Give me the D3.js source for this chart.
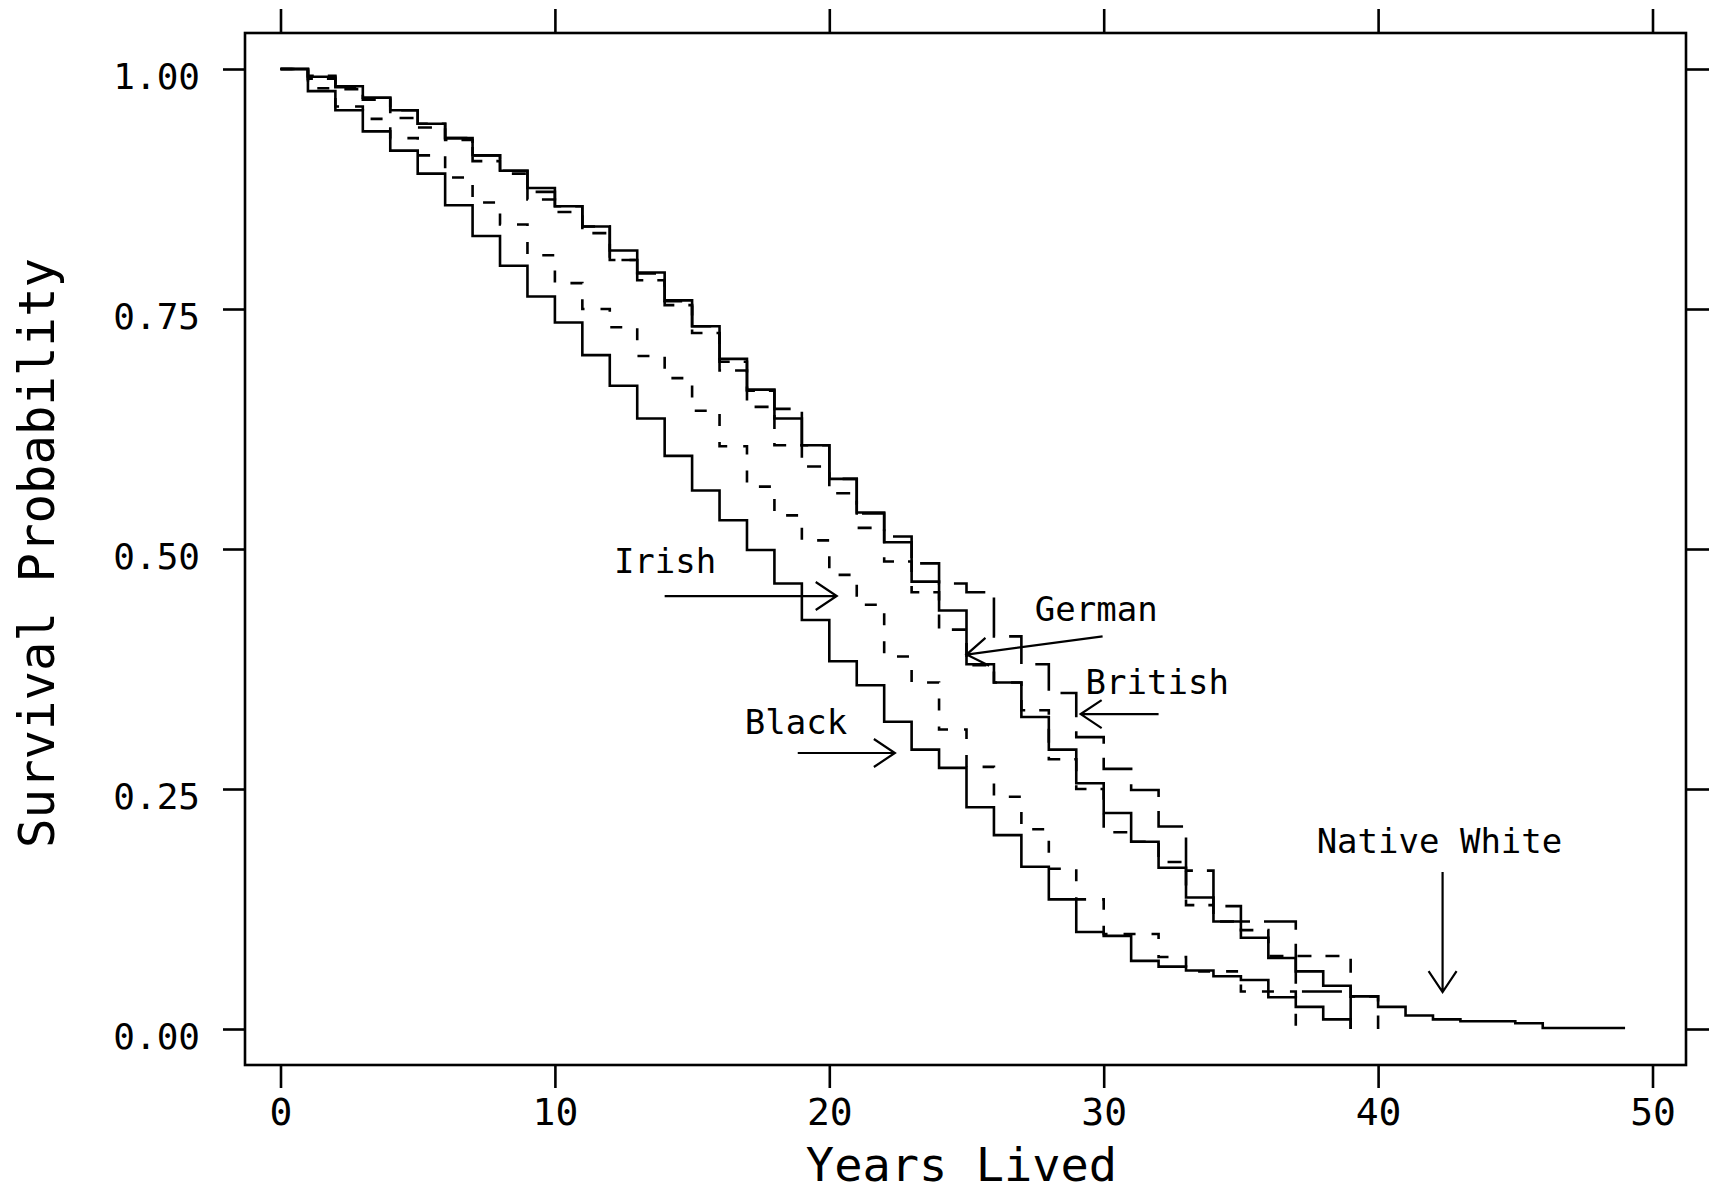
<!DOCTYPE html>
<html>
<head>
<meta charset="utf-8">
<script src="https://cdn.jsdelivr.net/npm/d3@7"></script>
<style>
  html, body { margin: 0; padding: 0; background: #fff; }
  svg { display: block; }
  text { font-family: "DejaVu Sans Mono", "Liberation Mono", monospace; fill: #000; }
</style>
</head>
<body>
<svg id="chart" width="1711" height="1194"></svg>
<script>
// ---- Data (survival probability at each integer year, starting at year 0) ----
const xTicks = [0, 10, 20, 30, 40, 50];
const yTicks = [0.00, 0.25, 0.50, 0.75, 1.00];

const nativeWhite = [1.000, 0.992, 0.982, 0.970, 0.957, 0.943, 0.928, 0.910, 0.894, 0.876,
  0.857, 0.836, 0.811, 0.788, 0.759, 0.732, 0.698, 0.666, 0.636, 0.608,
  0.573, 0.538, 0.507, 0.466, 0.436, 0.380, 0.361, 0.325, 0.291, 0.256,
  0.225, 0.195, 0.168, 0.137, 0.112, 0.095, 0.074, 0.060, 0.045, 0.034,
  0.023, 0.014, 0.010, 0.008, 0.008, 0.006, 0.001, 0.001, 0.001];
const nativeWhiteEnd = 49;

const german = [1.000, 0.990, 0.979, 0.968, 0.949, 0.939, 0.926, 0.904, 0.891, 0.864,
  0.851, 0.829, 0.801, 0.780, 0.754, 0.725, 0.686, 0.648, 0.608, 0.586,
  0.558, 0.522, 0.487, 0.455, 0.416, 0.379, 0.361, 0.332, 0.281, 0.250,
  0.205, 0.195, 0.174, 0.129, 0.112, 0.103, 0.076, 0.076, 0.076, 0.034];
const germanEnd = 40;

const british = [1.000, 0.993, 0.981, 0.970, 0.957, 0.943, 0.928, 0.910, 0.894, 0.872,
  0.857, 0.836, 0.801, 0.787, 0.758, 0.732, 0.695, 0.665, 0.646, 0.608,
  0.573, 0.537, 0.513, 0.485, 0.464, 0.455, 0.409, 0.380, 0.350, 0.304,
  0.271, 0.249, 0.211, 0.165, 0.128, 0.112, 0.112, 0.039, 0.039];
const britishEnd = 39;

const irish = [1.000, 0.980, 0.961, 0.948, 0.928, 0.910, 0.887, 0.861, 0.838, 0.806,
  0.777, 0.750, 0.731, 0.701, 0.678, 0.644, 0.607, 0.565, 0.535, 0.509,
  0.473, 0.442, 0.388, 0.361, 0.312, 0.273, 0.242, 0.208, 0.167, 0.135,
  0.099, 0.099, 0.075, 0.060, 0.060, 0.039, 0.039];
const irishEnd = 37;

const black = [1.000, 0.977, 0.957, 0.935, 0.915, 0.891, 0.858, 0.826, 0.795, 0.763,
  0.736, 0.702, 0.670, 0.636, 0.597, 0.561, 0.530, 0.499, 0.464, 0.426,
  0.383, 0.358, 0.320, 0.291, 0.272, 0.231, 0.202, 0.169, 0.135, 0.101,
  0.097, 0.071, 0.065, 0.061, 0.055, 0.051, 0.033, 0.023, 0.010];
const blackEnd = 39;

const labels = ["Native White", "German", "British", "Irish", "Black"];

// ---- Layout ----
const svg = d3.select("#chart");
const frame = { left: 245, right: 1686, top: 33, bottom: 1065 };
const x = d3.scaleLinear().domain([0, 50]).range([280.5, 1652.5]);
const y = d3.scaleLinear().domain([0, 1]).range([1029, 69]);

const series = [
  { name: labels[0], values: nativeWhite, end: nativeWhiteEnd, dropToZero: false, dash: null },
  { name: labels[1], values: german, end: germanEnd, dropToZero: true, dash: "14,14" },
  { name: labels[2], values: british, end: britishEnd, dropToZero: true, dash: "40,14" },
  { name: labels[3], values: irish, end: irishEnd, dropToZero: true, dash: "12,16" },
  { name: labels[4], values: black, end: blackEnd, dropToZero: true, dash: null }
];

const line = d3.line()
  .x(d => x(d[0]))
  .y(d => y(d[1]))
  .curve(d3.curveStepAfter);

series.forEach(s => {
  const pts = s.values.map((v, i) => [i, v]);
  pts.push([s.end, s.dropToZero ? 0 : s.values[s.values.length - 1]]);
  svg.append("path")
    .attr("d", line(pts))
    .attr("fill", "none")
    .attr("stroke", "#000")
    .attr("stroke-width", 2.6)
    .attr("stroke-linejoin", "miter")
    .attr("stroke-linecap", "butt")
    .attr("stroke-dasharray", s.dash);
});

// ---- Frame ----
svg.append("rect")
  .attr("x", frame.left).attr("y", frame.top)
  .attr("width", frame.right - frame.left)
  .attr("height", frame.bottom - frame.top)
  .attr("fill", "none").attr("stroke", "#000").attr("stroke-width", 2.6);

// ---- Axes ----
function styleAxis(g) {
  g.select(".domain").remove();
  g.selectAll(".tick line").attr("stroke", "#000").attr("stroke-width", 2.6);
}

const gBottom = svg.append("g").attr("transform", `translate(0,${frame.bottom})`)
  .call(d3.axisBottom(x).tickValues(xTicks).tickSize(23).tickFormat(d3.format("d")));
styleAxis(gBottom);
gBottom.selectAll(".tick text")
  .attr("y", 60).attr("dy", 0)
  .style("font-size", "38px").style("font-family", "DejaVu Sans Mono").attr("fill", "#000");

const gTop = svg.append("g").attr("transform", `translate(0,${frame.top})`)
  .call(d3.axisTop(x).tickValues(xTicks).tickSize(24).tickFormat(""));
styleAxis(gTop);

const gLeft = svg.append("g").attr("transform", `translate(${frame.left},0)`)
  .call(d3.axisLeft(y).tickValues(yTicks).tickSize(22).tickFormat(d3.format(".2f")));
styleAxis(gLeft);
gLeft.selectAll(".tick text")
  .attr("x", -45).attr("dy", 19)
  .style("font-size", "36px").style("font-family", "DejaVu Sans Mono").attr("fill", "#000");

const gRight = svg.append("g").attr("transform", `translate(${frame.right},0)`)
  .call(d3.axisRight(y).tickValues(yTicks).tickSize(23).tickFormat(""));
styleAxis(gRight);

// ---- Axis titles ----
svg.append("text")
  .attr("x", (frame.left + frame.right) / 2 - 4).attr("y", 1181)
  .attr("text-anchor", "middle")
  .style("font-size", "47px")
  .text("Years Lived");

svg.append("text")
  .attr("transform", `translate(54,${(frame.top + frame.bottom) / 2 + 4}) rotate(-90)`)
  .attr("text-anchor", "middle")
  .style("font-size", "49px")
  .text("Survival Probability");

// ---- Annotations (label positions and arrows in data units) ----
const notes = [
  { text: labels[3], tx: 12.15, ty: 0.475, from: [14.0, 0.451], to: [20.27, 0.451] },
  { text: labels[1], tx: 27.49, ty: 0.425, from: [29.96, 0.409], to: [25.0, 0.390] },
  { text: labels[2], tx: 29.34, ty: 0.349, from: [32.0, 0.328], to: [29.16, 0.328] },
  { text: labels[4], tx: 16.92, ty: 0.307, from: [18.85, 0.2875], to: [22.39, 0.2875] },
  { text: labels[0], tx: 37.76, ty: 0.183, from: [42.35, 0.1635], to: [42.35, 0.0385] }
];

notes.forEach(n => {
  svg.append("text")
    .attr("x", x(n.tx)).attr("y", y(n.ty))
    .style("font-size", "34px")
    .text(n.text);
  const x1 = x(n.from[0]), y1 = y(n.from[1]);
  const x2 = x(n.to[0]), y2 = y(n.to[1]);
  const ang = Math.atan2(y2 - y1, x2 - x1);
  const back = 21, half = 14;
  const bx = x2 - back * Math.cos(ang), by = y2 - back * Math.sin(ang);
  const px = -Math.sin(ang) * half, py = Math.cos(ang) * half;
  const p = d3.path();
  p.moveTo(x1, y1); p.lineTo(x2, y2);
  p.moveTo(bx + px, by + py); p.lineTo(x2, y2); p.lineTo(bx - px, by - py);
  svg.append("path")
    .attr("d", p.toString())
    .attr("fill", "none").attr("stroke", "#000").attr("stroke-width", 2.2);
});
</script>
</body>
</html>
